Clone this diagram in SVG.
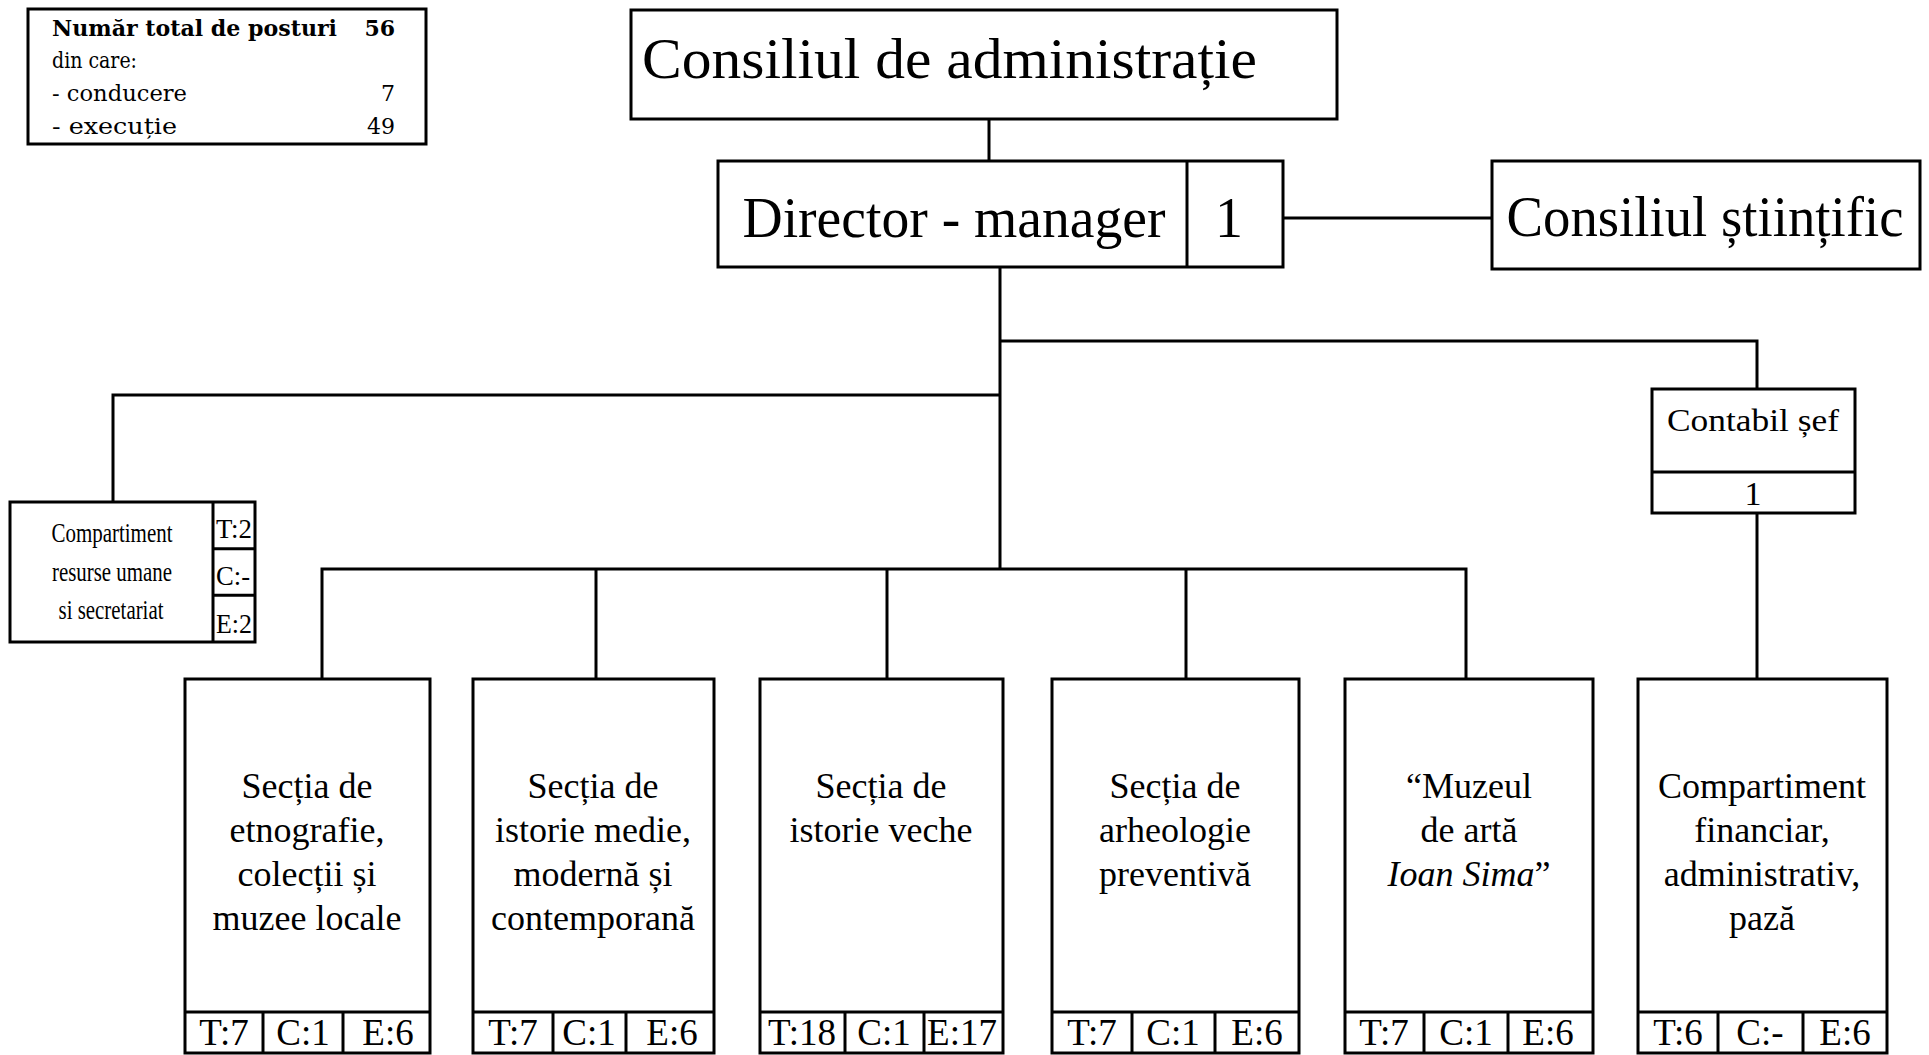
<svg xmlns="http://www.w3.org/2000/svg" width="1929" height="1055" viewBox="0 0 1929 1055">
<style>
.box{fill:#fff;stroke:#000;stroke-width:3}
.ln{fill:none;stroke:#000;stroke-width:3}
.t{font-family:"Liberation Serif","Times New Roman",serif;fill:#000}
.sum{font-family:"DejaVu Serif","Liberation Serif",serif;font-size:22px;fill:#000}
.b{font-weight:bold}
.mid{text-anchor:middle}
.end{text-anchor:end}
.sec{font-size:36px}
.cell{font-size:37px}
.big{font-size:56px}
.small{font-size:28px}
</style>
<rect width="1929" height="1055" fill="#fff"/>
<g id="connectors">
<line class="ln" x1="989" y1="119" x2="989" y2="161"/>
<line class="ln" x1="1283" y1="218" x2="1492" y2="218"/>
<polyline class="ln" points="1000,267 1000,569"/>
<polyline class="ln" points="1000,341 1757,341 1757,389"/>
<polyline class="ln" points="1000,395 113,395 113,502"/>
<line class="ln" x1="1757" y1="513" x2="1757" y2="679"/>
<polyline class="ln" points="322,679 322,569 1466,569 1466,679"/>
<line class="ln" x1="596" y1="569" x2="596" y2="679"/>
<line class="ln" x1="887" y1="569" x2="887" y2="679"/>
<line class="ln" x1="1186" y1="569" x2="1186" y2="679"/>
</g>
<g id="summary">
<rect class="box" x="28" y="9" width="398" height="135"/>
<text class="sum b" x="52" y="36" textLength="285" lengthAdjust="spacingAndGlyphs">Număr total de posturi</text>
<text class="sum b end" x="395" y="36">56</text>
<text class="sum" x="52" y="68" textLength="85" lengthAdjust="spacingAndGlyphs">din care:</text>
<text class="sum" x="52" y="101" textLength="135" lengthAdjust="spacingAndGlyphs">- conducere</text>
<text class="sum end" x="395" y="101">7</text>
<text class="sum" x="52" y="134" textLength="125" lengthAdjust="spacingAndGlyphs">- execuție</text>
<text class="sum end" x="395" y="134">49</text>
</g>
<g id="consiliul-administratie">
<rect class="box" x="631" y="10" width="706" height="109"/>
<text class="t" x="642" y="78" font-size="58" textLength="615" lengthAdjust="spacingAndGlyphs">Consiliul de administrație</text>
</g>
<g id="director">
<rect class="box" x="718" y="161" width="565" height="106"/>
<line class="ln" x1="1187" y1="161" x2="1187" y2="267"/>
<text class="t big mid" x="954" y="237" textLength="423" lengthAdjust="spacingAndGlyphs">Director - manager</text>
<text class="t big mid" x="1229" y="237">1</text>
</g>
<g id="consiliul-stiintific">
<rect class="box" x="1492" y="161" width="428" height="108"/>
<text class="t big mid" x="1705" y="236" textLength="397" lengthAdjust="spacingAndGlyphs">Consiliul științific</text>
</g>
<g id="contabil-sef">
<rect class="box" x="1652" y="389" width="203" height="124"/>
<line class="ln" x1="1652" y1="472" x2="1855" y2="472"/>
<text class="t mid" x="1753" y="431" font-size="32" textLength="172" lengthAdjust="spacingAndGlyphs">Contabil șef</text>
<text class="t mid" x="1753" y="505" font-size="34">1</text>
</g>
<g id="resurse-umane">
<rect class="box" x="10" y="502" width="245" height="140"/>
<line class="ln" x1="213" y1="502" x2="213" y2="642"/>
<line class="ln" x1="213" y1="548.7" x2="255" y2="548.7"/>
<line class="ln" x1="213" y1="595.3" x2="255" y2="595.3"/>
<text class="t small mid" x="112" y="542" textLength="121" lengthAdjust="spacingAndGlyphs">Compartiment</text>
<text class="t small mid" x="112" y="581" textLength="120" lengthAdjust="spacingAndGlyphs">resurse umane</text>
<text class="t small mid" x="111" y="619" textLength="105" lengthAdjust="spacingAndGlyphs">si secretariat</text>
<text class="t" x="216" y="538" font-size="28" textLength="36" lengthAdjust="spacingAndGlyphs">T:2</text>
<text class="t" x="216" y="585" font-size="28" textLength="34" lengthAdjust="spacingAndGlyphs">C:-</text>
<text class="t" x="216" y="633" font-size="28" textLength="36" lengthAdjust="spacingAndGlyphs">E:2</text>
</g>
<g id="sectia-etnografie">
<rect class="box" x="185" y="679" width="245" height="374"/>
<polyline class="ln" points="185,1012 430,1012"/>
<line class="ln" x1="263" y1="1012" x2="263" y2="1053"/>
<line class="ln" x1="343" y1="1012" x2="343" y2="1053"/>
<text class="t sec mid" x="307" y="798">Secția de</text>
<text class="t sec mid" x="307" y="842">etnografie,</text>
<text class="t sec mid" x="307" y="886">colecții și</text>
<text class="t sec mid" x="307" y="930">muzee locale</text>
<text class="t cell mid" x="224" y="1045">T:7</text>
<text class="t cell mid" x="303" y="1045">C:1</text>
<text class="t cell mid" x="388" y="1045">E:6</text>
</g>
<g id="sectia-istorie-medie">
<rect class="box" x="473" y="679" width="241" height="374"/>
<polyline class="ln" points="473,1012 714,1012"/>
<line class="ln" x1="553" y1="1012" x2="553" y2="1053"/>
<line class="ln" x1="626" y1="1012" x2="626" y2="1053"/>
<text class="t sec mid" x="593" y="798">Secția de</text>
<text class="t sec mid" x="593" y="842">istorie medie,</text>
<text class="t sec mid" x="593" y="886">modernă și</text>
<text class="t sec mid" x="593" y="930">contemporană</text>
<text class="t cell mid" x="513" y="1045">T:7</text>
<text class="t cell mid" x="589" y="1045">C:1</text>
<text class="t cell mid" x="672" y="1045">E:6</text>
</g>
<g id="sectia-istorie-veche">
<rect class="box" x="760" y="679" width="243" height="374"/>
<polyline class="ln" points="760,1012 1003,1012"/>
<line class="ln" x1="845" y1="1012" x2="845" y2="1053"/>
<line class="ln" x1="924" y1="1012" x2="924" y2="1053"/>
<text class="t sec mid" x="881" y="798">Secția de</text>
<text class="t sec mid" x="881" y="842">istorie veche</text>
<text class="t cell mid" x="802" y="1045">T:18</text>
<text class="t cell mid" x="884" y="1045">C:1</text>
<text class="t cell mid" x="962" y="1045">E:17</text>
</g>
<g id="sectia-arheologie">
<rect class="box" x="1052" y="679" width="247" height="374"/>
<polyline class="ln" points="1052,1012 1299,1012"/>
<line class="ln" x1="1132" y1="1012" x2="1132" y2="1053"/>
<line class="ln" x1="1215" y1="1012" x2="1215" y2="1053"/>
<text class="t sec mid" x="1175" y="798">Secția de</text>
<text class="t sec mid" x="1175" y="842">arheologie</text>
<text class="t sec mid" x="1175" y="886">preventivă</text>
<text class="t cell mid" x="1092" y="1045">T:7</text>
<text class="t cell mid" x="1173" y="1045">C:1</text>
<text class="t cell mid" x="1257" y="1045">E:6</text>
</g>
<g id="muzeul-de-arta">
<rect class="box" x="1345" y="679" width="248" height="374"/>
<polyline class="ln" points="1345,1012 1593,1012"/>
<line class="ln" x1="1424" y1="1012" x2="1424" y2="1053"/>
<line class="ln" x1="1508" y1="1012" x2="1508" y2="1053"/>
<text class="t sec mid" x="1469" y="798">“Muzeul</text>
<text class="t sec mid" x="1469" y="842">de artă</text>
<text class="t sec mid" x="1469" y="886"><tspan font-style="italic">Ioan Sima</tspan>”</text>
<text class="t cell mid" x="1384" y="1045">T:7</text>
<text class="t cell mid" x="1466" y="1045">C:1</text>
<text class="t cell mid" x="1548" y="1045">E:6</text>
</g>
<g id="compartiment-financiar">
<rect class="box" x="1638" y="679" width="249" height="374"/>
<polyline class="ln" points="1638,1012 1887,1012"/>
<line class="ln" x1="1718" y1="1012" x2="1718" y2="1053"/>
<line class="ln" x1="1803" y1="1012" x2="1803" y2="1053"/>
<text class="t sec mid" x="1762" y="798">Compartiment</text>
<text class="t sec mid" x="1762" y="842">financiar,</text>
<text class="t sec mid" x="1762" y="886">administrativ,</text>
<text class="t sec mid" x="1762" y="930">pază</text>
<text class="t cell mid" x="1678" y="1045">T:6</text>
<text class="t cell mid" x="1760" y="1045">C:-</text>
<text class="t cell mid" x="1845" y="1045">E:6</text>
</g>
</svg>
